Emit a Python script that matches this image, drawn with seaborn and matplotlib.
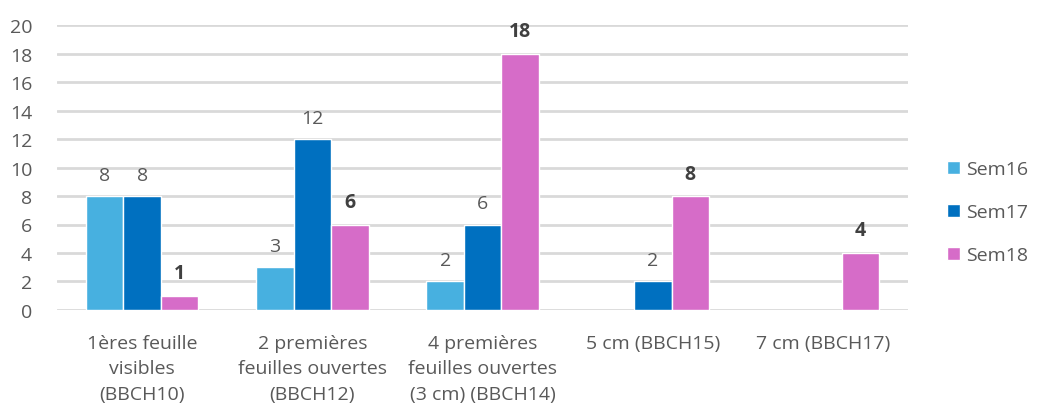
import pandas as pd
import seaborn as sns
import matplotlib.pyplot as plt

# Chart data
categories = [
    "1ères feuille\nvisibles\n(BBCH10)",
    "2 premières\nfeuilles ouvertes\n(BBCH12)",
    "4 premières\nfeuilles ouvertes\n(3 cm) (BBCH14)",
    "5 cm (BBCH15)",
    "7 cm (BBCH17)",
]
series = ["Sem16", "Sem17", "Sem18"]
sem16 = [8, 3, 2, None, None]
sem17 = [8, 12, 6, 2, None]
sem18 = [1, 6, 18, 8, 4]
yticks = list(range(0, 21, 2))

colors = {"Sem16": "#47B0E0", "Sem17": "#0070C0", "Sem18": "#D66CC8"}

rows = []
for name, vals in zip(series, [sem16, sem17, sem18]):
    for cat, v in zip(categories, vals):
        if v is not None:
            rows.append({"cat": cat, "serie": name, "val": v})
df = pd.DataFrame(rows)

sns.set_style("white")
plt.rcParams["font.family"] = ["Open Sans", "DejaVu Sans"]

fig = plt.figure(figsize=(10.38, 4.10), dpi=100)
ax = fig.add_axes([0.055, 0.2415, 0.82, 0.695])

sns.barplot(data=df, x="cat", y="val", hue="serie", order=categories,
            hue_order=series, palette=colors, width=0.66, gap=0,
            saturation=1, ax=ax, legend=True)

# Value labels
for cont, name in zip(ax.containers, series):
    if name == "Sem18":
        ax.bar_label(cont, fmt="%g", padding=9, fontsize=14,
                     fontweight="bold", color="#404040")
    else:
        ax.bar_label(cont, fmt="%g", padding=9, fontsize=14,
                     color="#595959")

ax.set_ylim(0, 20)
ax.set_xlim(-0.5, 4.5)
ax.set_yticks(yticks)
ax.yaxis.grid(True, color="#D9D9D9", linewidth=2)
ax.set_axisbelow(True)
for s in ax.spines.values():
    s.set_visible(False)
ax.tick_params(axis="both", length=0, labelsize=14, labelcolor="#595959")
ax.tick_params(axis="x", pad=17)
ax.tick_params(axis="y", pad=18)
for lbl in ax.get_xticklabels():
    lbl.set_linespacing(1.55)
ax.set_xlabel("")
ax.set_ylabel("")

leg = ax.legend(loc="center left", bbox_to_anchor=(0.905, 0.48),
                bbox_transform=fig.transFigure, borderaxespad=0,
                frameon=False, fontsize=14, handlelength=0.65,
                handleheight=0.65, handletextpad=0.3, labelspacing=1.3)
for t in leg.get_texts():
    t.set_color("#595959")

fig.savefig("out.png", dpi=100)
